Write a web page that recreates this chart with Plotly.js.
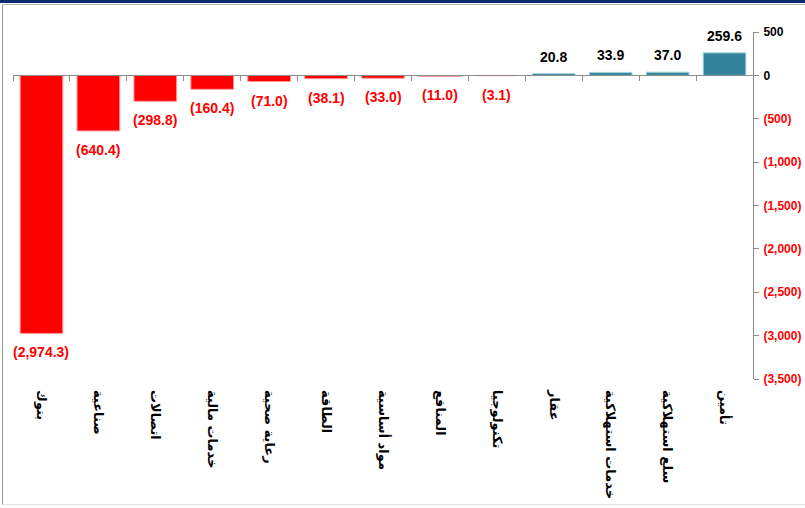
<!DOCTYPE html>
<html>
<head>
<meta charset="utf-8">
<script src="https://cdn.plot.ly/plotly-3.0.1.min.js"></script>
<style>
html,body{margin:0;padding:0;background:#fff;overflow:hidden;}
#topbar{position:absolute;left:0;top:0;width:805px;height:3px;background:#0d2a6e;}
#frame{position:absolute;left:2px;top:4px;width:820px;height:499px;border-left:1px solid #9a9a9a;border-top:1px solid #b8b8b8;border-bottom:1px solid #e2e2e2;}
#chart{position:absolute;left:0;top:0;width:805px;height:508px;}
</style>
</head>
<body>
<div id="topbar"></div>
<div id="frame"></div>
<div id="chart"></div>
<script>
const categories = ["بنوك","صناعية","اتصالات","خدمات مالية","رعاية صحية","الطاقة","مواد أساسية","المنافع","تكنولوجيا","عقار","خدمات استهلاكية","سلع استهلاكية","تأمين"];
const values = [-2974.3,-640.4,-298.8,-160.4,-71.0,-38.1,-33.0,-11.0,-3.1,20.8,33.9,37.0,259.6];
const yTicks = [500,0,-500,-1000,-1500,-2000,-2500,-3000,-3500];

const posColor = "#31849B", negColor = "#FF0000";

function fmt(v){
  const s = Math.abs(v).toLocaleString("en-US",{minimumFractionDigits:1,maximumFractionDigits:1});
  return v < 0 ? "(" + s + ")" : s;
}
function fmtTick(v){
  const s = Math.abs(v).toLocaleString("en-US");
  return v < 0 ? '<span style="color:#FF0000">(' + s + ')</span>' : s;
}

const colors = values.map(v => v < 0 ? negColor : posColor);
const lineColors = values.map(v => v < 0 ? "#ff9a9a" : "#a9d4df");

const bars = {
  type: "bar", x: categories, y: values,
  marker: {color: colors, line: {color: lineColors, width: 1}},
  hoverinfo: "x+y", xaxis: "x", yaxis: "y"
};
const dummy = {
  type: "scatter", mode: "markers", x: categories, y: values.map(() => 0),
  marker: {opacity: 0}, hoverinfo: "skip", xaxis: "x2", yaxis: "y", showlegend: false
};

const annotations = values.map((v, i) => ({
  x: categories[i], y: v, xref: "x", yref: "y",
  text: "<b>" + fmt(v) + "</b>", showarrow: false,
  yanchor: "middle", yshift: v < 0 ? -19 : 17,
  font: {family: "Liberation Sans, Arial, sans-serif", size: 14, color: v < 0 ? negColor : "#000"}
}));

const xRange = [-0.5, categories.length - 0.5];

const layout = {
  width: 805, height: 508,
  margin: {l: 13, r: 52, t: 31.5, b: 128.5},
  paper_bgcolor: "rgba(0,0,0,0)", plot_bgcolor: "rgba(0,0,0,0)",
  showlegend: false, bargap: 0.25,
  font: {family: "Liberation Sans, Arial, sans-serif"},
  xaxis: {
    type: "category", range: xRange, autorange: false, automargin: false,
    tickangle: 90, ticks: "", showline: false, showgrid: false,
    ticklabelstandoff: 10,
    tickfont: {family: "DejaVu Sans, sans-serif", size: 13, color: "#000", weight: "bold"}
  },
  xaxis2: {
    type: "category", range: xRange, autorange: false, overlaying: "x", anchor: "free", position: 0.875, side: "bottom",
    showticklabels: false, ticks: "outside", ticklen: 5, tickcolor: "#8c8c8c", tickwidth: 1,
    tickson: "boundaries", showline: true, linecolor: "#8c8c8c", linewidth: 1, showgrid: false,
    automargin: false
  },
  yaxis: {
    side: "right", range: [-3500, 500], autorange: false, automargin: false,
    tickvals: yTicks, ticktext: yTicks.map(fmtTick),
    ticks: "outside", ticklen: 5, tickcolor: "#8c8c8c", showline: true, linecolor: "#8c8c8c",
    showgrid: false, zeroline: true, zerolinecolor: "#8c8c8c", zerolinewidth: 1,
    ticklabelstandoff: 2,
    tickfont: {family: "Liberation Sans, Arial, sans-serif", size: 12, color: "#000", weight: "bold"}
  },
  annotations: annotations
};

Plotly.newPlot("chart", [bars, dummy], layout, {displayModeBar: false, staticPlot: true});
</script>
</body>
</html>
